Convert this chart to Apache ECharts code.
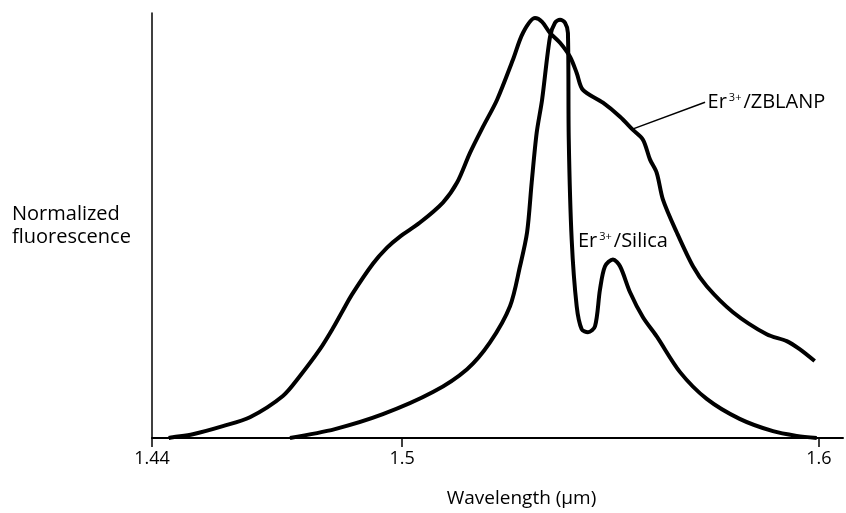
<!DOCTYPE html>
<html>
<head>
<meta charset="utf-8">
<script src="https://cdn.jsdelivr.net/npm/echarts@6/dist/echarts.min.js"></script>
<style>
  html, body { margin: 0; padding: 0; background: #fff; }
  #container { width: 846px; height: 513px; }
</style>
</head>
<body>
<div id="container"></div>
<script>
// wavelength (um) / normalized fluorescence
const zblanpX = [1.4440, 1.4450, 1.4498, 1.4570, 1.4635, 1.4714, 1.4755, 1.4803, 1.4834, 1.4858,
  1.4880, 1.4930, 1.4964, 1.4995, 1.5043, 1.5098, 1.5132, 1.5163, 1.5194, 1.5228,
  1.5266, 1.5290, 1.5319, 1.5336, 1.5355, 1.5379, 1.5403, 1.5419, 1.5434, 1.5482, 1.5523,
  1.5554, 1.5578, 1.5595, 1.5611, 1.5626, 1.5659, 1.5698, 1.5731, 1.5794, 1.5875, 1.5923,
  1.5954, 1.5990];
const zblanpY = [0.000, 0.002, 0.009, 0.028, 0.049, 0.099, 0.146, 0.209, 0.258, 0.300,
  0.338, 0.410, 0.448, 0.474, 0.507, 0.554, 0.601, 0.671, 0.732, 0.796,
  0.890, 0.953, 0.988, 0.979, 0.953, 0.930, 0.897, 0.859, 0.819, 0.789, 0.756,
  0.725, 0.702, 0.655, 0.624, 0.561, 0.484, 0.404, 0.357, 0.296, 0.244, 0.228,
  0.209, 0.181];

const silicaX = [1.4731, 1.4839, 1.4954, 1.5074, 1.5156, 1.5211, 1.5259, 1.5283, 1.5300, 1.5311,
  1.5323, 1.5336, 1.5355, 1.5367, 1.5379, 1.5391, 1.5398, 1.5400, 1.5407, 1.5419, 1.5431,
  1.5446, 1.5463, 1.5475, 1.5487, 1.5506, 1.5523, 1.5547, 1.5578, 1.5611, 1.5667, 1.5731,
  1.5810, 1.5890, 1.5947, 1.5995];
const silicaY = [0.000, 0.021, 0.056, 0.108, 0.162, 0.225, 0.310, 0.404, 0.484, 0.601,
  0.718, 0.796, 0.944, 0.977, 0.984, 0.977, 0.953, 0.702, 0.467, 0.310, 0.256,
  0.249, 0.263, 0.350, 0.404, 0.420, 0.404, 0.343, 0.284, 0.239, 0.155, 0.092,
  0.045, 0.016, 0.005, 0.000];

const tickValues = [1.44, 1.5, 1.6];

const ink = '#000';
const font = 'Open Sans';

const zip = (xs, ys) => xs.map((x, i) => [x, ys[i]]);

const chart = echarts.init(document.getElementById('container'), null, { renderer: 'canvas' });

const labelRich = {
  a: { color: ink, fontFamily: font, fontSize: 20 },
  s: { color: ink, fontFamily: font, fontSize: 11, padding: [0, 2, 9, 2] }
};

const option = {
  animation: false,
  grid: { left: 152, right: 3, top: 13, bottom: 74, containLabel: false },
  xAxis: {
    type: 'value',
    min: 1.44,
    max: 1.6058,
    name: 'Wavelength (\u03bcm)',
    nameLocation: 'middle',
    nameGap: 51,
    nameTextStyle: { color: ink, fontFamily: font, fontSize: 19, padding: [0, 0, 0, 48] },
    axisLine: { lineStyle: { color: ink, width: 2 } },
    axisTick: { show: true, length: 9, customValues: tickValues, lineStyle: { color: ink, width: 1.5 } },
    axisLabel: {
      customValues: tickValues,
      color: ink, fontFamily: font, fontSize: 18, margin: 12,
      formatter: v => String(v)
    },
    splitLine: { show: false }
  },
  yAxis: {
    type: 'value',
    min: 0,
    max: 1,
    name: 'Normalized\nfluorescence',
    nameLocation: 'middle',
    nameRotate: 0,
    nameGap: 140,
    nameTextStyle: { color: ink, fontFamily: font, fontSize: 20, align: 'left', lineHeight: 23 },
    axisLine: { show: true, lineStyle: { color: ink, width: 1.5 } },
    axisTick: { show: false },
    axisLabel: { show: false },
    splitLine: { show: false }
  },
  series: [
    {
      name: 'Er3+/ZBLANP',
      type: 'line',
      data: zip(zblanpX, zblanpY),
      smooth: 0.3,
      symbol: 'none',
      lineStyle: { color: ink, width: 4 },
      markLine: {
        silent: true,
        symbol: 'none',
        label: { show: false },
        lineStyle: { color: ink, width: 1.5, type: 'solid' },
        data: [[{ coord: [1.5556, 0.728] }, { coord: [1.5727, 0.790] }]]
      },
      markPoint: {
        silent: true,
        data: [{
          coord: [1.5733, 0.789],
          symbol: 'circle',
          symbolSize: 0,
          label: {
            show: true, position: 'right', distance: 0,
            formatter: '{a|Er}{s|3+}{a|/ZBLANP}',
            rich: labelRich
          }
        }]
      }
    },
    {
      name: 'Er3+/Silica',
      type: 'line',
      data: zip(silicaX, silicaY),
      smooth: 0.3,
      symbol: 'none',
      lineStyle: { color: ink, width: 4 },
      markPoint: {
        silent: true,
        data: [{
          coord: [1.5422, 0.462],
          symbol: 'circle',
          symbolSize: 0,
          label: {
            show: true, position: 'right', distance: 0,
            formatter: '{a|Er}{s|3+}{a|/Silica}',
            rich: labelRich
          }
        }]
      }
    }
  ]
};

chart.setOption(option);
window.addEventListener('resize', () => chart.resize());
</script>
</body>
</html>
